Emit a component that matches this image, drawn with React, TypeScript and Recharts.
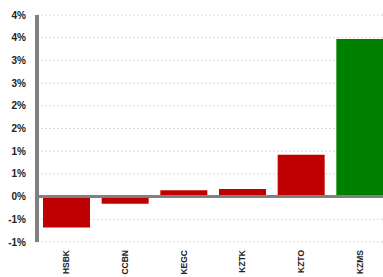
import React from "react";
import { BarChart, Bar, XAxis, YAxis, CartesianGrid, ReferenceLine, Cell } from "recharts";

const categories = ["HSBK", "CCBN", "KEGC", "KZTK", "KZTO", "KZMS"];
const changes = [-0.68, -0.16, 0.14, 0.17, 0.92, 3.47];
const barColors = ["#C00000", "#C00000", "#C00000", "#C00000", "#C00000", "#008000"];
const yTicks = [-1, -0.5, 0, 0.5, 1, 1.5, 2, 2.5, 3, 3.5, 4];

const data = categories.map((name, i) => ({ name, value: changes[i] }));

const fmt = (v: number) => {
  const r = Math.sign(v) * Math.round(Math.abs(v));
  return `${r === 0 ? 0 : r}%`;
};

const XTick = (props: any) => {
  const { x, y, payload } = props;
  const ty = y + 8;
  return (
    <text
      x={x}
      y={ty}
      transform={`rotate(-90, ${x}, ${ty})`}
      textAnchor="end"
      dominantBaseline="central"
      fontSize={8.5}
      fontWeight="bold"
      fill="#222"
      fontFamily="Liberation Sans, Arial, sans-serif"
    >
      {payload.value}
    </text>
  );
};

export default function App() {
  return (
    <div style={{ position: "absolute", left: 0, top: 0, width: 383, height: 277, background: "#fff", overflow: "hidden" }}>
      <BarChart
        width={383}
        height={277}
        data={data}
        margin={{ top: 15, right: -6, bottom: 0, left: 0 }}
      >
        <CartesianGrid vertical={false} stroke="#d9d9d9" strokeDasharray="2 2" />
        <XAxis
          dataKey="name"
          axisLine={false}
          tickLine={false}
          tickSize={0}
          tickMargin={0}
          height={35}
          interval={0}
          tick={<XTick />}
        />
        <YAxis
          domain={[-1, 4]}
          ticks={yTicks}
          interval={0}
          width={37}
          tickFormatter={fmt}
          tickLine={false}
          tickSize={0}
          tickMargin={11}
          axisLine={{ stroke: "#808080", strokeWidth: 4 }}
          tick={{ fontSize: 10, fontWeight: "bold", fill: "#222", fontFamily: "Liberation Sans, Arial, sans-serif" }}
        />
        <Bar dataKey="value" barSize={47} isAnimationActive={false}>
          {data.map((d, i) => (
            <Cell key={d.name} fill={barColors[i]} />
          ))}
        </Bar>
        <ReferenceLine y={0} stroke="#808080" strokeWidth={3} />
      </BarChart>
    </div>
  );
}
